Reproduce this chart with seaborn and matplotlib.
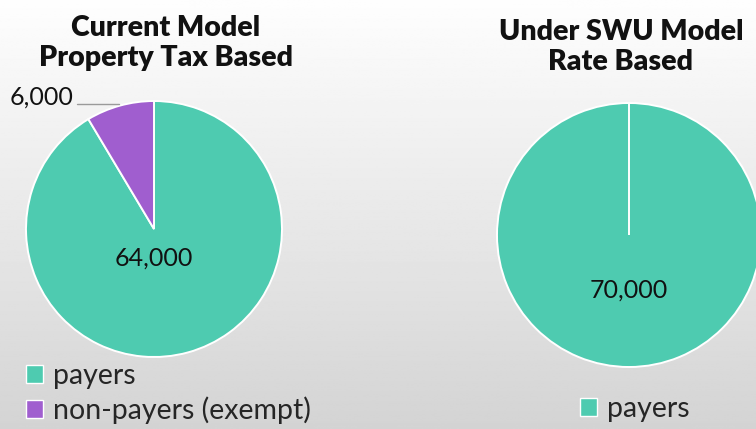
import numpy as np
import matplotlib
matplotlib.use("Agg")
import matplotlib.pyplot as plt
import seaborn as sns
from matplotlib.patches import Patch

sns.set_style("white")
plt.rcParams["font.family"] = ["Lato", "DejaVu Sans"]

# Data
current_labels = ["payers", "non-payers (exempt)"]
current_values = [64000, 6000]
swu_labels = ["payers"]
swu_values = [70000]
titles = ["Current Model\nProperty Tax Based", "Under SWU Model\nRate Based"]

teal = "#4ECBB0"
purple = "#A05ECF"
colors = sns.color_palette([teal, purple])

W, H = 756, 429
fig = plt.figure(figsize=(W / 100, H / 100), dpi=100)

# Soft vertical grey gradient background
bg = fig.add_axes([0, 0, 1, 1], zorder=-10)
grad = np.linspace(0.995, 0.83, 256).reshape(-1, 1)
bg.imshow(np.repeat(grad, 2, axis=1), cmap="gray", vmin=0, vmax=1,
          aspect="auto", extent=[0, 1, 0, 1])
bg.set_axis_off()


def pie_axes(cx, cy, r):
    ax = fig.add_axes([(cx - r) / W, (H - cy - r) / H, 2 * r / W, 2 * r / H])
    ax.set_xlim(-1, 1)
    ax.set_ylim(-1, 1)
    ax.set_aspect("equal")
    ax.set_axis_off()
    return ax


fmt = lambda v: f"{v:,}"
num_size = 18

# Left pie: current model
ax1 = pie_axes(154, 229, 128)
wedges1, _ = ax1.pie(current_values, colors=colors, startangle=90,
                     counterclock=False, radius=1,
                     wedgeprops=dict(edgecolor="white", linewidth=1.4))
ax1.set_xlim(-1, 1)
ax1.set_ylim(-1, 1)
ax1.text(0, -0.23, fmt(current_values[0]), ha="center", va="center",
         fontsize=num_size, color="#111111")
ax1.text(-0.63, 1.03, fmt(current_values[1]), ha="right", va="center",
         fontsize=num_size, color="#111111", clip_on=False)
ax1.plot([-0.60, -0.27], [0.98, 0.98], color="#9a9a9a", lw=1, clip_on=False)

# Right pie: SWU model
ax2 = pie_axes(629, 235, 132)
wedges2, _ = ax2.pie(swu_values, colors=[teal], startangle=90,
                     counterclock=False, radius=1,
                     wedgeprops=dict(edgecolor="white", linewidth=1.4))
ax2.set_xlim(-1, 1)
ax2.set_ylim(-1, 1)
ax2.vlines(0, 0, 1, color="white", lw=1.4)
ax2.text(0, -0.42, fmt(swu_values[0]), ha="center", va="center",
         fontsize=num_size, color="#111111")

# Titles
for x, y, t in [(166, 43, titles[0]), (621, 47, titles[1])]:
    fig.text(x / W, 1 - y / H, t, ha="center", va="center", fontsize=20.5,
             fontweight="heavy", linespacing=1.15, color="#111111")

# Legends
leg_kw = dict(frameon=False, fontsize=20.5, handlelength=0.6, handleheight=0.6,
              handletextpad=0.35, labelspacing=0.25, borderpad=0, borderaxespad=0)
h1 = [Patch(facecolor=c, edgecolor="white", lw=1) for c in colors]
fig.legend(h1, current_labels, loc="upper left",
           bbox_to_anchor=(26 / W, 1 - 363 / H), **leg_kw)
h2 = [Patch(facecolor=teal, edgecolor="white", lw=1)]
fig.legend(h2, swu_labels, loc="upper left",
           bbox_to_anchor=(580 / W, 1 - 396 / H), **leg_kw)

fig.savefig("out.png", dpi=100)
